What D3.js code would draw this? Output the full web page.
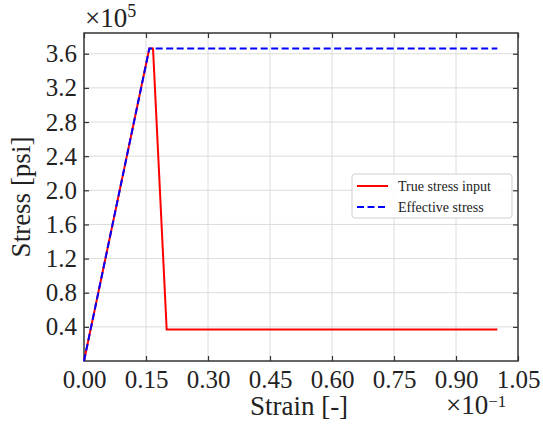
<!DOCTYPE html>
<html><head><meta charset="utf-8">
<script src="https://cdn.jsdelivr.net/npm/d3@7"></script>
<style>body{margin:0;background:#fff;} svg{display:block;}</style>
</head><body>
<script>
// Data (strain in units of 1e-1, stress in units of 1e5 psi)
const trueStrain = [0, 0.158, 0.167, 0.2, 1.0];
const trueStress = [0, 3.66, 3.66, 0.37, 0.37];
const effStrain = [0, 0.158, 1.0];
const effStress = [0, 3.66, 3.66];
const xTicks = [0, 0.15, 0.30, 0.45, 0.60, 0.75, 0.90, 1.05];
const yTicks = [0.4, 0.8, 1.2, 1.6, 2.0, 2.4, 2.8, 3.2, 3.6];
const seriesNames = ["True stress input", "Effective stress"];

const W = 543, H = 432;
const m = {left: 84, top: 33, right: 25, bottom: 71};
const font = "'Liberation Serif', 'DejaVu Serif', serif";
const svg = d3.select("body").append("svg").attr("width", W).attr("height", H);
const x = d3.scaleLinear().domain([0, 1.05]).range([m.left, W - m.right]);
const y = d3.scaleLinear().domain([0, 3.843]).range([H - m.bottom, m.top]);

// grid
svg.append("g").selectAll("line").data(xTicks.slice(1, -1)).join("line")
  .attr("x1", d => x(d)).attr("x2", d => x(d)).attr("y1", y.range()[0]).attr("y2", y.range()[1])
  .attr("stroke", "#dcdcdc").attr("stroke-width", 1);
svg.append("g").selectAll("line").data(yTicks).join("line")
  .attr("y1", d => y(d)).attr("y2", d => y(d)).attr("x1", x.range()[0]).attr("x2", x.range()[1])
  .attr("stroke", "#dcdcdc").attr("stroke-width", 1);

// axes with inward ticks
const fmtX = d3.format(".2f"), fmtY = d3.format(".1f");
function styleAxis(g, showLabels) {
  g.select(".domain").remove();
  g.selectAll(".tick line").attr("stroke", "#333").attr("stroke-width", 1.2);
  g.selectAll(".tick text").attr("font-family", font).attr("font-size", 25).attr("fill", "#222");
  if (!showLabels) g.selectAll(".tick text").remove();
}
svg.append("g").attr("transform", `translate(0,${H - m.bottom})`)
  .call(d3.axisBottom(x).tickValues(xTicks).tickFormat(fmtX).tickSizeInner(-5).tickPadding(9))
  .call(g => styleAxis(g, true));
svg.append("g").attr("transform", `translate(0,${m.top})`)
  .call(d3.axisTop(x).tickValues(xTicks).tickSizeInner(-5))
  .call(g => styleAxis(g, false));
svg.append("g").attr("transform", `translate(${m.left},0)`)
  .call(d3.axisLeft(y).tickValues(yTicks).tickFormat(fmtY).tickSizeInner(-5).tickPadding(7))
  .call(g => styleAxis(g, true));
svg.append("g").attr("transform", `translate(${W - m.right},0)`)
  .call(d3.axisRight(y).tickValues(yTicks).tickSizeInner(-5))
  .call(g => styleAxis(g, false));

// frame
svg.append("rect").attr("x", m.left).attr("y", m.top)
  .attr("width", W - m.left - m.right).attr("height", H - m.top - m.bottom)
  .attr("fill", "none").attr("stroke", "#333").attr("stroke-width", 1.5);

// lines
const line = d3.line().x(d => x(d[0])).y(d => y(d[1]));
svg.append("path").datum(trueStrain.map((s, i) => [s, trueStress[i]]))
  .attr("d", line).attr("fill", "none").attr("stroke", "#ff0000").attr("stroke-width", 2);
svg.append("path").datum(effStrain.map((s, i) => [s, effStress[i]]))
  .attr("d", line).attr("fill", "none").attr("stroke", "#0000ff").attr("stroke-width", 2)
  .attr("stroke-dasharray", "7,3.5");

// multipliers
const t1 = svg.append("text").attr("x", 85).attr("y", 27).attr("font-family", font).attr("font-size", 27).attr("fill", "#222");
t1.append("tspan").text("×10");
t1.append("tspan").attr("dy", -10).attr("font-size", 18).text("5");
const t2 = svg.append("text").attr("x", 446).attr("y", 414).attr("font-family", font).attr("font-size", 27).attr("fill", "#222");
t2.append("tspan").text("×10");
t2.append("tspan").attr("dy", -7).attr("font-size", 17).text("−1");

// axis labels
svg.append("text").attr("x", 299).attr("y", 415).attr("text-anchor", "middle")
  .attr("font-family", font).attr("font-size", 27).attr("fill", "#222").text("Strain [-]");
svg.append("text").attr("transform", `translate(30,${(m.top + H - m.bottom) / 2}) rotate(-90)`)
  .attr("text-anchor", "middle").attr("font-family", font).attr("font-size", 27).attr("fill", "#222").text("Stress [psi]");

// legend
const lg = svg.append("g");
lg.append("rect").attr("x", 352).attr("y", 174).attr("width", 160).attr("height", 44).attr("rx", 3)
  .attr("fill", "#fff").attr("fill-opacity", 0.85).attr("stroke", "#d0d0d0").attr("stroke-width", 1);
const colors = ["#ff0000", "#0000ff"], dashes = [null, "7,3.5"];
seriesNames.forEach((n, i) => {
  const yy = 186 + i * 21;
  lg.append("line").attr("x1", 357).attr("x2", 388).attr("y1", yy).attr("y2", yy)
    .attr("stroke", colors[i]).attr("stroke-width", 2).attr("stroke-dasharray", dashes[i]);
  lg.append("text").attr("x", 398).attr("y", yy + 4.5).attr("font-family", font).attr("font-size", 14)
    .attr("fill", "#222").text(n);
});
</script>
</body></html>
